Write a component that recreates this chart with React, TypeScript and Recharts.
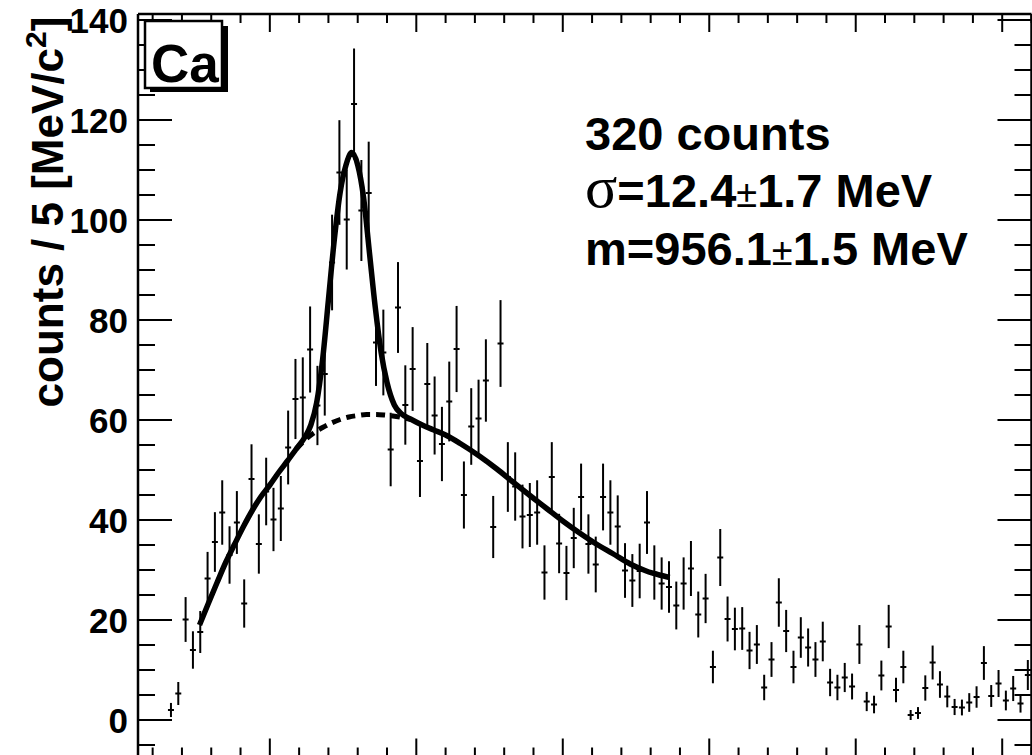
import React from "react";
import { ComposedChart, XAxis, YAxis, Scatter, ErrorBar, Line } from "recharts";

// invariant-mass histogram, 5 MeV bins, first filled bin centred at 827.5 MeV
const FIRST_BIN = 827.5;
const BIN_WIDTH = 5;
const counts = [
  0, 2, 5.3, 20.1, 14, 17.6, 28.3, 35.6, 41.5, 33,
  39.5, 23.3, 48.2, 35.2, 45.7, 40.1, 42.3, 54.5, 64.2, 64.5,
  74.1, 62.9, 69.2, 91.5, 109.5, 100.1, 123.2, 101.9, 105.4, 75.5,
  73.5, 54.1, 82.5, 63, 70.2, 51.8, 67.2, 60.9, 55.2, 63.7,
  74.2, 45, 58.7, 60.3, 67.9, 38.6, 75.3, 48.6, 46.7, 40.7,
  41, 41.5, 29.5, 48.6, 35.3, 29.4, 36.4, 44.6, 35.2, 31.1,
  44.6, 41.5, 38.7, 29.9, 27.9, 29.8, 39.5, 29.5, 27.3, 26.6,
  22.9, 27.3, 30.3, 21.1, 24.3, 10.6, 32.5, 20.2, 18.2, 18.3,
  13.9, 15.1, 6.5, 12.1, 23.5, 17.8, 10.6, 16.5, 14.5, 12.1,
  15.7, 7.5, 6.5, 8.5, 6.7, 15.1, 3.7, 3.1, 8.9, 18.7,
  6, 10.6, 1, 1.4, 6.4, 11.5, 7.1, 4.7, 2.6, 2.5,
  3.5, 4.6, 11.4, 4.8, 7.3, 3.9, 6.3, 3.3, 9,
];

// signal + background fit (solid)
const fitMass = [
  852, 858, 864, 870, 876, 882, 888, 894, 900, 906, 912, 918, 924, 928,
  932, 936, 940, 944, 948, 952, 956, 960, 964, 968, 972, 976, 980, 985,
  990, 996, 1004, 1012, 1020, 1030, 1043, 1055, 1066, 1078, 1089, 1100,
  1112, 1124, 1134, 1146, 1157, 1166, 1173,
];
const fitTotal = [
  19, 23.3, 27.5, 31.6, 35.2, 38.7, 41.9, 44.7, 47, 49.5, 51.8, 54.2, 56.6, 59,
  63.5, 72, 84, 96, 105.5, 111, 113.5, 111, 104.5, 93.5, 82.5, 73.5, 67.5, 63,
  61.2, 60.2, 59, 58, 57, 55.3, 52.8, 50.2, 47.6, 44.8, 42.3, 39.8,
  37.3, 35, 33.3, 31.2, 29.8, 29, 28.5,
];

// background component under the peak (dashed)
const bgMass = [918, 924, 930, 936, 942, 948, 954, 960, 966, 972, 978, 984, 990, 996];
const bgValues = [54.2, 56.0, 57.4, 58.5, 59.4, 60.1, 60.6, 60.9, 61.1, 61.1, 61.0, 60.8, 60.5, 60.1];

const xMajor = [900, 1000, 1100, 1200, 1300, 1400];
const yMajor = [0, 20, 40, 60, 80, 100, 120, 140];
const X_DOMAIN: [number, number] = [810, 1420];
const Y_DOMAIN: [number, number] = [-7.3, 141.2];

const points = counts.map((v, i) => ({
  m: FIRST_BIN + i * BIN_WIDTH,
  v,
  err: Math.sqrt(v),
}));
const fit = fitMass.map((m, i) => ({ m, v: fitTotal[i] }));
const bg = bgMass.map((m, i) => ({ m, v: bgValues[i] }));

const xTicks: number[] = [];
for (let m = 820; m <= 1420; m += 20) xTicks.push(m);
const yTicks: number[] = [];
for (let v = -5; v <= 140; v += 5) yTicks.push(v);

const xMajorSet = new Set(xMajor);
const yMajorSet = new Set(yMajor);

const FONT = "'Liberation Sans', Arial, Helvetica, sans-serif";
const SYMBOL_FONT = "'Liberation Serif', 'DejaVu Serif', serif";
const W = 1040;
const H = 760;

function BottomTick({ x, y, payload }: any) {
  const len = xMajorSet.has(payload.value) ? 18 : 9;
  return <line x1={x} x2={x} y1={y} y2={y - len} stroke="#000" strokeWidth={2} />;
}

function TopTick({ x, y, payload }: any) {
  const len = xMajorSet.has(payload.value) ? 18 : 9;
  return <line x1={x} x2={x} y1={y} y2={y + len} stroke="#000" strokeWidth={2} />;
}

function LeftTick({ x, y, payload }: any) {
  const major = yMajorSet.has(payload.value);
  return (
    <g>
      <line x1={x} x2={x + (major ? 34 : 17)} y1={y} y2={y} stroke="#000" strokeWidth={2} />
      {major && (
        <text
          x={x - 10}
          y={y + 13}
          textAnchor="end"
          fontFamily={FONT}
          fontWeight="bold"
          fontSize={35}
          fill="#000"
        >
          {payload.value}
        </text>
      )}
    </g>
  );
}

function RightTick({ x, y, payload }: any) {
  const len = yMajorSet.has(payload.value) ? 34 : 17;
  return <line x1={x} x2={x - len} y1={y} y2={y} stroke="#000" strokeWidth={2} />;
}

function Cross({ cx, cy }: any) {
  return <line x1={cx - 3} x2={cx + 3} y1={cy} y2={cy} stroke="#000" strokeWidth={2} />;
}

const frame = { stroke: "#000", strokeWidth: 2.5 };

export default function App() {
  return (
    <div style={{ position: "absolute", left: 0, top: 0, width: W, height: H, background: "#fff" }}>
      <ComposedChart
        width={W}
        height={H}
        margin={{ top: 13, right: 7.5, bottom: 2.5, left: 137 }}
      >
        <XAxis
          xAxisId="bottom"
          dataKey="m"
          type="number"
          domain={X_DOMAIN}
          allowDataOverflow
          ticks={xTicks}
          interval={0}
          height={1}
          tickSize={0}
          tickMargin={0}
          tickLine={false}
          axisLine={frame}
          tick={BottomTick}
        />
        <XAxis
          xAxisId="top"
          orientation="top"
          dataKey="m"
          type="number"
          domain={X_DOMAIN}
          allowDataOverflow
          ticks={xTicks}
          interval={0}
          height={1}
          tickSize={0}
          tickMargin={0}
          tickLine={false}
          axisLine={frame}
          tick={TopTick}
        />
        <YAxis
          yAxisId="left"
          type="number"
          domain={Y_DOMAIN}
          allowDataOverflow
          ticks={yTicks}
          interval={0}
          width={1}
          tickSize={0}
          tickMargin={0}
          tickLine={false}
          axisLine={frame}
          tick={LeftTick}
        />
        <YAxis
          yAxisId="right"
          orientation="right"
          type="number"
          domain={Y_DOMAIN}
          allowDataOverflow
          ticks={yTicks}
          interval={0}
          width={1}
          tickSize={0}
          tickMargin={0}
          tickLine={false}
          axisLine={frame}
          tick={RightTick}
        />
        <Scatter
          data={points}
          dataKey="v"
          xAxisId="bottom"
          yAxisId="left"
          shape={Cross}
          isAnimationActive={false}
        >
          <ErrorBar dataKey="err" direction="y" width={0} stroke="#000" strokeWidth={2} />
        </Scatter>
        <Line
          data={bg}
          dataKey="v"
          xAxisId="bottom"
          yAxisId="left"
          type="monotone"
          stroke="#000"
          strokeWidth={5}
          strokeDasharray="9 6"
          dot={false}
          activeDot={false}
          isAnimationActive={false}
        />
        <Line
          data={fit}
          dataKey="v"
          xAxisId="bottom"
          yAxisId="left"
          type="monotone"
          stroke="#000"
          strokeWidth={5.5}
          dot={false}
          activeDot={false}
          isAnimationActive={false}
        />
      </ComposedChart>

      <svg
        width={W}
        height={H}
        style={{ position: "absolute", left: 0, top: 0, pointerEvents: "none" }}
      >
        {/* y axis title */}
        <text
          transform="translate(63, 212) rotate(-90)"
          textAnchor="middle"
          fontFamily={FONT}
          fontWeight="bold"
          fontSize={44}
          fill="#000"
        >
          counts / 5 [MeV/c
          <tspan fontSize={30} dy={-17}>2</tspan>
          <tspan dy={17}>]</tspan>
        </text>

        {/* target label with shadowed box */}
        <rect x={150} y={26} width={78} height={66} fill="#000" />
        <rect x={145} y={21} width={77} height={67} fill="#fff" stroke="#000" strokeWidth={2.5} />
        <text x={151} y={82} fontFamily={FONT} fontWeight="bold" fontSize={53} fill="#000">
          Ca
        </text>

        {/* fit results */}
        <g fontFamily={FONT} fontWeight="bold" fontSize={47} fill="#000">
          <text x={585} y={150}>320 counts</text>
          <text x={585} y={207}>
            <tspan fontFamily={SYMBOL_FONT} fontWeight="normal" fontSize={60}>σ</tspan>
            =12.4
            <tspan fontWeight="normal" fontSize={38}>±</tspan>
            1.7 MeV
          </text>
          <text x={585} y={265}>
            m=956.1
            <tspan fontWeight="normal" fontSize={38}>±</tspan>
            1.5 MeV
          </text>
        </g>
      </svg>
    </div>
  );
}
